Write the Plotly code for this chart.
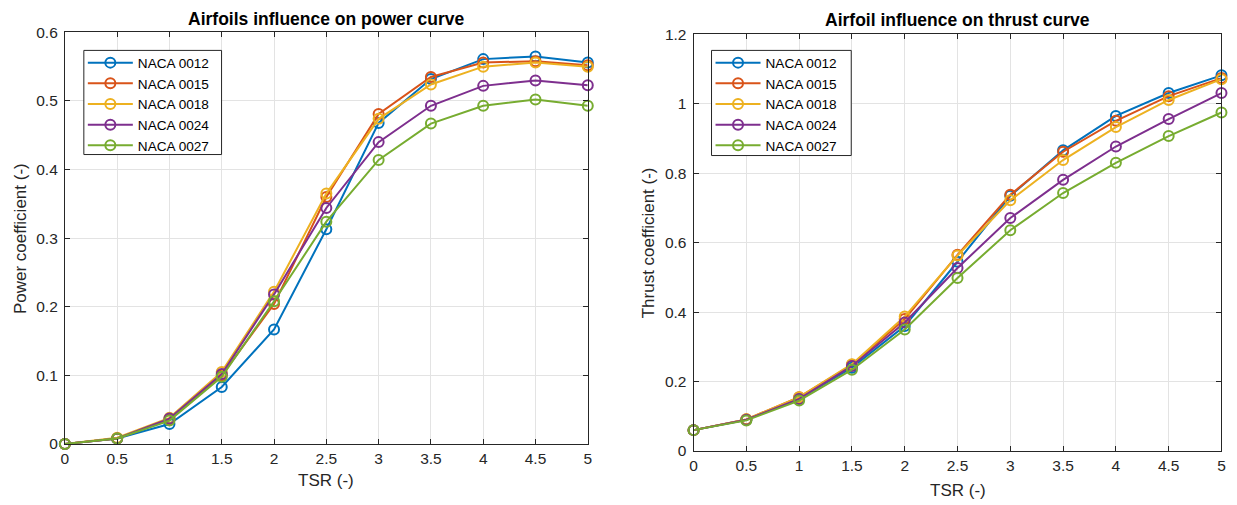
import plotly.graph_objects as go

tsr = [0, 0.5, 1, 1.5, 2, 2.5, 3, 3.5, 4, 4.5, 5]
names = ["NACA 0012", "NACA 0015", "NACA 0018", "NACA 0024", "NACA 0027"]
colors = ["#0072BD", "#D95319", "#EDB120", "#7E2F8E", "#77AC30"]

cp_0012 = [0, 0.008, 0.029, 0.083, 0.167, 0.313, 0.468, 0.532, 0.561, 0.565, 0.556]
cp_0015 = [0, 0.008, 0.036, 0.100, 0.204, 0.360, 0.481, 0.535, 0.556, 0.558, 0.552]
cp_0018 = [0, 0.009, 0.038, 0.105, 0.222, 0.365, 0.474, 0.524, 0.550, 0.556, 0.550]
cp_0024 = [0, 0.008, 0.037, 0.102, 0.218, 0.344, 0.440, 0.493, 0.522, 0.530, 0.523]
cp_0027 = [0, 0.008, 0.034, 0.098, 0.208, 0.324, 0.414, 0.467, 0.493, 0.502, 0.493]

ct_0012 = [0.06, 0.090, 0.150, 0.240, 0.360, 0.545, 0.735, 0.866, 0.965, 1.031, 1.082]
ct_0015 = [0.06, 0.091, 0.155, 0.248, 0.380, 0.565, 0.738, 0.862, 0.951, 1.022, 1.074]
ct_0018 = [0.06, 0.091, 0.155, 0.250, 0.387, 0.563, 0.722, 0.838, 0.933, 1.011, 1.071]
ct_0024 = [0.06, 0.090, 0.150, 0.245, 0.370, 0.527, 0.671, 0.781, 0.877, 0.956, 1.031]
ct_0027 = [0.06, 0.088, 0.145, 0.234, 0.350, 0.498, 0.636, 0.743, 0.830, 0.907, 0.975]

cp_series = [cp_0012, cp_0015, cp_0018, cp_0024, cp_0027]
ct_series = [ct_0012, ct_0015, ct_0018, ct_0024, ct_0027]

W, H = 1237, 505
FONT = "Liberation Sans, Arial, sans-serif"
TXT = "#262626"
LEG_FS = 13.6

# map target picture pixels to page pixels (compensates capture scaling)
def X(p):
    return (p - 2) / 0.9956

def Y(p):
    return (p - 8.66) / 0.965

def fx(p):
    return X(p) / W

def fy(p):
    return 1 - Y(p) / H

fig = go.Figure()

for name, col, ys in zip(names, colors, cp_series):
    fig.add_trace(go.Scatter(
        x=tsr, y=ys, name=name, mode="lines+markers",
        line=dict(color=col, width=2),
        marker=dict(symbol="circle-open", size=10, color=col, line=dict(width=2, color=col)),
        cliponaxis=False, xaxis="x", yaxis="y", legend="legend",
    ))

for name, col, ys in zip(names, colors, ct_series):
    fig.add_trace(go.Scatter(
        x=tsr, y=ys, name=name, mode="lines+markers",
        line=dict(color=col, width=2),
        marker=dict(symbol="circle-open", size=10, color=col, line=dict(width=2, color=col)),
        cliponaxis=False, xaxis="x2", yaxis="y2", legend="legend2",
    ))

# plot areas (target pixels)
L1, R1, T1, B1 = 63, 587, 32, 443
L2, R2, T2, B2 = 693, 1222, 34, 450

axis_common = dict(
    showline=True, linecolor=TXT, linewidth=1, mirror="allticks",
    ticks="inside", ticklen=5, tickwidth=1, tickcolor=TXT,
    showgrid=True, gridcolor="#e3e3e3", gridwidth=1,
    zeroline=False, tickfont=dict(family=FONT, size=15.5, color=TXT),
    fixedrange=True,
)

legend_common = dict(
    xanchor="left", yanchor="top", bgcolor="rgba(0,0,0,0)", borderwidth=0,
    font=dict(family=FONT, size=LEG_FS, color="black"), itemwidth=45,
)

# legend boxes (target pixels): left, right, top, bottom
LB1 = (82, 220, 50, 154)
LB2 = (711, 851, 50, 155)
ROW1 = 61.7  # centre of first legend row

def legend_top_frac():
    top_page = Y(ROW1) - ((LEG_FS * 1.3 + 3) / 2 + 5)
    return 1 - top_page / H

fig.update_layout(
    width=W, height=H,
    margin=dict(l=0, r=0, t=0, b=0),
    paper_bgcolor="white", plot_bgcolor="white",
    font=dict(family=FONT, color=TXT),
    xaxis=dict(domain=[fx(L1), fx(R1)], range=[0, 5], dtick=0.5, tick0=0,
               anchor="y", **axis_common),
    yaxis=dict(domain=[fy(B1), fy(T1)], range=[0, 0.6], dtick=0.1, tick0=0,
               anchor="x", ticklabelstandoff=3, **axis_common),
    xaxis2=dict(domain=[fx(L2), fx(R2)], range=[0, 5], dtick=0.5, tick0=0,
                anchor="y2", **axis_common),
    yaxis2=dict(domain=[fy(B2), fy(T2)], range=[0, 1.2], dtick=0.2, tick0=0,
                anchor="x2", ticklabelstandoff=3, **axis_common),
    legend=dict(x=fx(LB1[0] - 1), y=legend_top_frac(), **legend_common),
    legend2=dict(x=fx(LB2[0] - 1), y=legend_top_frac(), **legend_common),
)

shapes = []
for (l, r, t, b) in (LB1, LB2):
    shapes.append(dict(type="rect", xref="paper", yref="paper",
                       x0=fx(l), x1=fx(r), y0=fy(b), y1=fy(t),
                       line=dict(color=TXT, width=1), fillcolor="white", layer="above"))
fig.update_layout(shapes=shapes)

ann = [
    dict(text="<b>Airfoils influence on power curve</b>", x=fx((L1 + R1) / 2), y=fy(19),
         font=dict(size=17.5, color="black", family=FONT)),
    dict(text="<b>Airfoil influence on thrust curve</b>", x=fx((L2 + R2) / 2), y=fy(20),
         font=dict(size=17.5, color="black", family=FONT)),
    dict(text="TSR (-)", x=fx((L1 + R1) / 2), y=fy(480),
         font=dict(size=17, color=TXT, family=FONT)),
    dict(text="TSR (-)", x=fx((L2 + R2) / 2), y=fy(489),
         font=dict(size=17, color=TXT, family=FONT)),
    dict(text="Power coefficient (-)", x=fx(18), y=fy((T1 + B1) / 2), textangle=-90,
         font=dict(size=17, color=TXT, family=FONT)),
    dict(text="Thrust coefficient (-)", x=fx(648), y=fy((T2 + B2) / 2), textangle=-90,
         font=dict(size=17, color=TXT, family=FONT)),
]
for a in ann:
    a.update(xref="paper", yref="paper", showarrow=False, xanchor="center", yanchor="middle")
fig.update_layout(annotations=ann)

post = (
    "document.documentElement.style.margin='0';"
    "document.documentElement.style.padding='0';"
    "document.documentElement.style.overflow='hidden';"
    "document.body.style.margin='0';"
    "document.body.style.padding='0';"
    "document.body.style.overflow='hidden';"
    "document.body.style.width='1237px';"
    "document.body.style.height='505px';"
    "var gd=document.getElementById('{plot_id}');"
    "gd.style.position='fixed';gd.style.left='0px';gd.style.top='0px';"
)

fig.write_html(
    "out.html",
    config={"displayModeBar": False},
    post_script=post,
)
